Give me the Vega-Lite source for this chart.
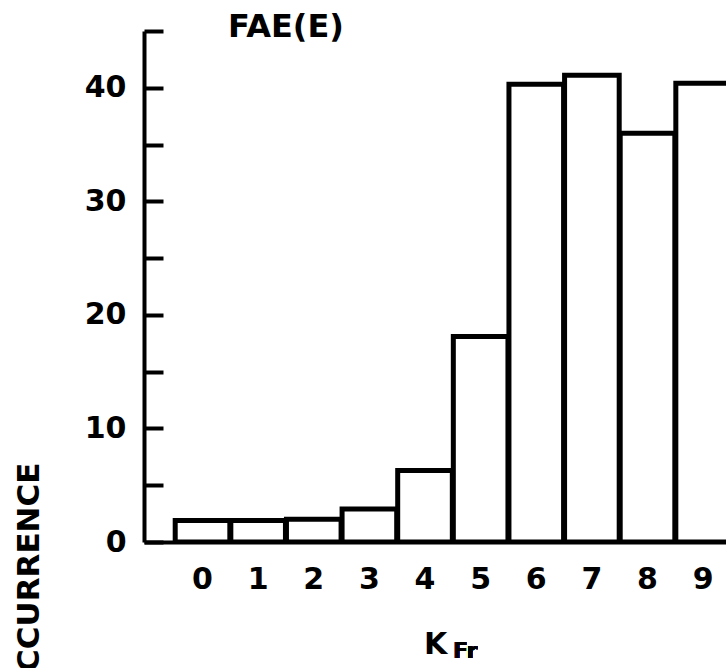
{
  "$schema": "https://vega.github.io/schema/vega-lite/v6.json",
  "width": 582,
  "height": 511,
  "autosize": "none",
  "padding": {"left": 144, "top": 31, "right": 0, "bottom": 126},
  "background": "white",
  "title": {
    "text": "FAE(E)",
    "anchor": "start",
    "frame": "group",
    "dx": 84,
    "offset": -40,
    "baseline": "alphabetic",
    "font": "DejaVu Sans",
    "fontSize": 32,
    "fontWeight": "bold",
    "color": "black"
  },
  "config": {
    "view": {"stroke": null},
    "axis": {
      "labelFont": "DejaVu Sans",
      "labelFontWeight": "bold",
      "labelFontSize": 30,
      "labelColor": "black",
      "titleFont": "DejaVu Sans",
      "titleFontWeight": "bold",
      "titleColor": "black",
      "domainColor": "black",
      "domainWidth": 4,
      "tickColor": "black",
      "tickWidth": 4,
      "grid": false
    }
  },
  "data": {
    "values": [
      {"k": 0, "k_lo": -0.5, "k_hi": 0.5, "count": 1.9},
      {"k": 1, "k_lo": 0.5, "k_hi": 1.5, "count": 1.9},
      {"k": 2, "k_lo": 1.5, "k_hi": 2.5, "count": 2.0},
      {"k": 3, "k_lo": 2.5, "k_hi": 3.5, "count": 2.9},
      {"k": 4, "k_lo": 3.5, "k_hi": 4.5, "count": 6.3},
      {"k": 5, "k_lo": 4.5, "k_hi": 5.5, "count": 18.1},
      {"k": 6, "k_lo": 5.5, "k_hi": 6.5, "count": 40.3},
      {"k": 7, "k_lo": 6.5, "k_hi": 7.5, "count": 41.1},
      {"k": 8, "k_lo": 7.5, "k_hi": 8.5, "count": 36.0},
      {"k": 9, "k_lo": 8.5, "k_hi": 9.5, "count": 40.4}
    ]
  },
  "layer": [
    {
      "mark": {"type": "bar", "fill": "white", "stroke": "black", "strokeWidth": 5, "clip": true},
      "encoding": {
        "x": {
          "field": "k_lo",
          "type": "quantitative",
          "bin": "binned",
          "scale": {"domain": [-1.043, 9.42], "nice": false, "zero": false},
          "axis": {
            "values": [0, 1, 2, 3, 4, 5, 6, 7, 8, 9],
            "format": "d",
            "ticks": false,
            "labelPadding": 22,
            "title": "K",
            "titleFontSize": 30,
            "titleX": 291,
            "titleY": 111,
            "titleBaseline": "alphabetic",
            "titleAlign": "center"
          }
        },
        "x2": {"field": "k_hi"},
        "y": {
          "field": "count",
          "type": "quantitative",
          "scale": {"domain": [0, 45], "nice": false},
          "axis": {
            "values": [0, 5, 10, 15, 20, 25, 30, 35, 40, 45],
            "labelExpr": "datum.value % 10 === 0 ? datum.label : ''",
            "tickSize": -19,
            "labelPadding": 37,
            "title": "OCCURRENCE",
            "titleFontSize": 31,
            "titleX": -115,
            "titleY": 431,
            "titleAngle": -90,
            "titleAlign": "right",
            "titleBaseline": "middle"
          }
        }
      }
    },
    {
      "mark": {"type": "text", "text": "Fr", "font": "DejaVu Sans", "fontWeight": "bold", "fontSize": 22, "color": "black", "align": "center", "baseline": "middle"},
      "encoding": {
        "x": {"datum": 4.73, "type": "quantitative"},
        "y": {"datum": -9.6, "type": "quantitative"}
      }
    }
  ]
}
